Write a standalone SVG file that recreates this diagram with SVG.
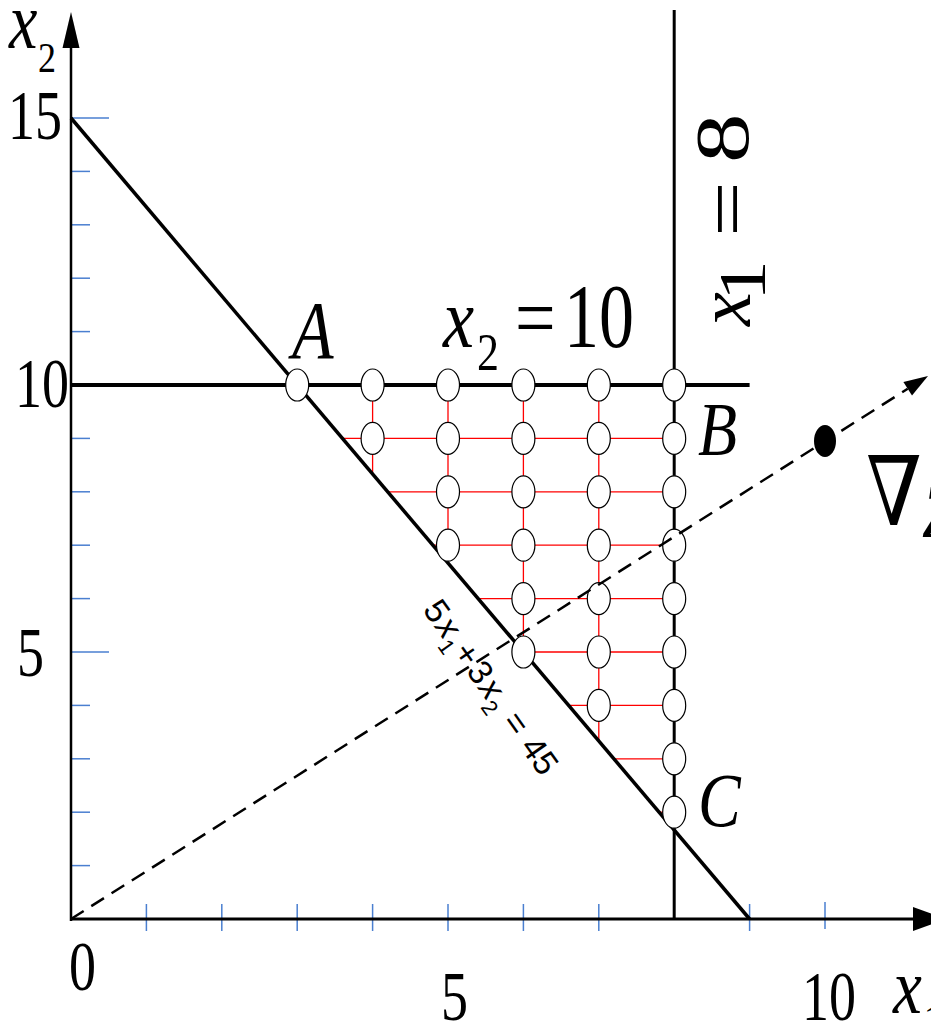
<svg xmlns="http://www.w3.org/2000/svg" width="931" height="1031" viewBox="0 0 931 1031">
<style>
.t{font-family:"Liberation Serif","Times New Roman",serif;fill:#000}
.i{font-style:italic}
.tick{stroke:#4a7fd0;stroke-width:1.5}
.red{stroke:#ff0000;stroke-width:1.3}
.blk{stroke:#000;fill:none}
.pt{fill:#fff;stroke:#000;stroke-width:1.2}
</style>
<rect width="931" height="1031" fill="#fff"/>
<g id="ticks">
<line class="tick" x1="71" y1="865.6" x2="90" y2="865.6"/>
<line class="tick" x1="71" y1="812.2" x2="90" y2="812.2"/>
<line class="tick" x1="71" y1="758.8" x2="90" y2="758.8"/>
<line class="tick" x1="71" y1="705.4" x2="90" y2="705.4"/>
<line class="tick" x1="71" y1="652" x2="109" y2="652"/>
<line class="tick" x1="71" y1="598.6" x2="90" y2="598.6"/>
<line class="tick" x1="71" y1="545.2" x2="90" y2="545.2"/>
<line class="tick" x1="71" y1="491.8" x2="90" y2="491.8"/>
<line class="tick" x1="71" y1="438.4" x2="90" y2="438.4"/>
<line class="tick" x1="71" y1="331.6" x2="90" y2="331.6"/>
<line class="tick" x1="71" y1="278.2" x2="90" y2="278.2"/>
<line class="tick" x1="71" y1="224.8" x2="90" y2="224.8"/>
<line class="tick" x1="71" y1="171.4" x2="90" y2="171.4"/>
<line class="tick" x1="71" y1="118" x2="109" y2="118"/>
<line class="tick" x1="146.4" y1="904" x2="146.4" y2="931"/>
<line class="tick" x1="221.8" y1="904" x2="221.8" y2="931"/>
<line class="tick" x1="297.2" y1="904" x2="297.2" y2="931"/>
<line class="tick" x1="372.6" y1="904" x2="372.6" y2="931"/>
<line class="tick" x1="448" y1="904" x2="448" y2="931"/>
<line class="tick" x1="523.4" y1="904" x2="523.4" y2="931"/>
<line class="tick" x1="598.8" y1="904" x2="598.8" y2="931"/>
<line class="tick" x1="749.6" y1="904" x2="749.6" y2="931"/>
<line class="tick" x1="825" y1="902" x2="825" y2="929"/>
</g>
<g id="grid">
<line class="red" x1="342.8" y1="438.4" x2="674.2" y2="438.4"/>
<line class="red" x1="388" y1="491.8" x2="674.2" y2="491.8"/>
<line class="red" x1="433" y1="545.2" x2="674.2" y2="545.2"/>
<line class="red" x1="478.4" y1="598.6" x2="674.2" y2="598.6"/>
<line class="red" x1="523.7" y1="652" x2="674.2" y2="652"/>
<line class="red" x1="568.9" y1="705.4" x2="674.2" y2="705.4"/>
<line class="red" x1="614.2" y1="758.8" x2="674.2" y2="758.8"/>
<line class="red" x1="659.4" y1="812.2" x2="674.2" y2="812.2"/>
<line class="red" x1="372.6" y1="385" x2="372.6" y2="473.8"/>
<line class="red" x1="448" y1="385" x2="448" y2="562.7"/>
<line class="red" x1="523.4" y1="385" x2="523.4" y2="651.7"/>
<line class="red" x1="598.8" y1="385" x2="598.8" y2="740.6"/>
</g>
<g id="axes">
<line class="blk" x1="71" y1="919" x2="914" y2="919" stroke-width="3"/>
<polygon points="913,907 946,919 913,931" fill="#000"/>
<line class="blk" x1="71" y1="921" x2="71" y2="46" stroke-width="2.5"/>
<polygon points="62.5,48 71,12 79.5,48" fill="#000"/>
</g>
<g id="constraints">
<line class="blk" x1="71" y1="385" x2="749.6" y2="385" stroke-width="4"/>
<line class="blk" x1="674.2" y1="10" x2="674.2" y2="919" stroke-width="3"/>
<line class="blk" x1="71" y1="118" x2="749.6" y2="919" stroke-width="3.5"/>
</g>
<g id="points">
<ellipse class="pt" cx="297.2" cy="385" rx="11.5" ry="16"/>
<ellipse class="pt" cx="372.6" cy="385" rx="11.5" ry="16"/>
<ellipse class="pt" cx="448" cy="385" rx="11.5" ry="16"/>
<ellipse class="pt" cx="523.4" cy="385" rx="11.5" ry="16"/>
<ellipse class="pt" cx="598.8" cy="385" rx="11.5" ry="16"/>
<ellipse class="pt" cx="674.2" cy="385" rx="11.5" ry="16"/>
<ellipse class="pt" cx="372.6" cy="438.4" rx="11.5" ry="16"/>
<ellipse class="pt" cx="448" cy="438.4" rx="11.5" ry="16"/>
<ellipse class="pt" cx="523.4" cy="438.4" rx="11.5" ry="16"/>
<ellipse class="pt" cx="598.8" cy="438.4" rx="11.5" ry="16"/>
<ellipse class="pt" cx="674.2" cy="438.4" rx="11.5" ry="16"/>
<ellipse class="pt" cx="448" cy="491.8" rx="11.5" ry="16"/>
<ellipse class="pt" cx="523.4" cy="491.8" rx="11.5" ry="16"/>
<ellipse class="pt" cx="598.8" cy="491.8" rx="11.5" ry="16"/>
<ellipse class="pt" cx="674.2" cy="491.8" rx="11.5" ry="16"/>
<ellipse class="pt" cx="448" cy="545.2" rx="11.5" ry="16"/>
<ellipse class="pt" cx="523.4" cy="545.2" rx="11.5" ry="16"/>
<ellipse class="pt" cx="598.8" cy="545.2" rx="11.5" ry="16"/>
<ellipse class="pt" cx="674.2" cy="545.2" rx="11.5" ry="16"/>
<ellipse class="pt" cx="523.4" cy="598.6" rx="11.5" ry="16"/>
<ellipse class="pt" cx="598.8" cy="598.6" rx="11.5" ry="16"/>
<ellipse class="pt" cx="674.2" cy="598.6" rx="11.5" ry="16"/>
<ellipse class="pt" cx="523.4" cy="652" rx="11.5" ry="16"/>
<ellipse class="pt" cx="598.8" cy="652" rx="11.5" ry="16"/>
<ellipse class="pt" cx="674.2" cy="652" rx="11.5" ry="16"/>
<ellipse class="pt" cx="598.8" cy="705.4" rx="11.5" ry="16"/>
<ellipse class="pt" cx="674.2" cy="705.4" rx="11.5" ry="16"/>
<ellipse class="pt" cx="674.2" cy="758.8" rx="11.5" ry="16"/>
<ellipse class="pt" cx="674.2" cy="812.2" rx="11.5" ry="16"/>
</g>
<g id="gradient">
<line x1="71" y1="919" x2="907.7" y2="388.8" stroke="#000" stroke-width="2.5" stroke-dasharray="15,9"/>
<polygon points="928,376 912,395.6 903.4,382" fill="#000"/>
<ellipse cx="825" cy="441" rx="11" ry="16" fill="#000"/>
</g>
<g id="labels">
<text class="t i" font-size="64" transform="translate(9,48) scale(1,1.25)">x</text>
<text class="t" font-size="36" transform="translate(38,72) scale(1,1.2)">2</text>
<text class="t" font-size="54" transform="translate(8,139) scale(1,1.3)">15</text>
<text class="t" font-size="54" transform="translate(15,407) scale(1,1.3)">10</text>
<text class="t" font-size="54" transform="translate(17,676) scale(1,1.3)">5</text>
<text class="t" font-size="54" transform="translate(69,990) scale(1,1.3)">0</text>
<text class="t" font-size="54" transform="translate(441,1020) scale(1,1.3)">5</text>
<text class="t" font-size="54" transform="translate(802,1020) scale(1,1.3)">10</text>
<text class="t i" font-size="65" transform="translate(893,1013) scale(1,1.2)">x</text>
<text class="t" font-size="36" transform="translate(924,1034) scale(1,1.2)">1</text>
<text class="t i" font-size="68" transform="translate(292,358) scale(1,1.2)">A</text>
<text class="t i" font-size="64" transform="translate(698,455) scale(1,1.2)">B</text>
<text class="t i" font-size="64" transform="translate(698,826) scale(1,1.2)">C</text>
<text class="t i" font-size="70" transform="translate(443,347) scale(1,1.2)">x</text>
<text class="t" font-size="44" transform="translate(477,370) scale(1,1.2)">2</text>
<text class="t" font-size="72" transform="translate(515,347) scale(1,1.2)">=</text>
<text class="t" font-size="70" transform="translate(564,347) scale(1,1.3)">10</text>
<text class="t" font-size="76" transform="translate(748,163) scale(1,1.3) rotate(-90)">8</text>
<text class="t" font-size="76" transform="translate(753,237) scale(1,1.3) rotate(-90)">=</text>
<text class="t i" font-size="76" transform="translate(750,326) rotate(-90)">x</text>
<text class="t" font-size="68" transform="translate(765,301) scale(1,1.2) rotate(-90)">1</text>
<text font-family="Liberation Sans, Arial, sans-serif" font-size="34" transform="translate(422,610) rotate(54.6)"><tspan x="0">5</tspan><tspan x="21" font-style="italic">x</tspan><tspan x="38" dy="9" font-size="22">1</tspan><tspan x="52" dy="-9">+</tspan><tspan x="75">3</tspan><tspan x="96" font-style="italic">x</tspan><tspan x="113" dy="9" font-size="22">2</tspan><tspan x="137" dy="-9">=</tspan><tspan x="168">45</tspan></text>
<text class="t" font-size="80" transform="translate(866,525) scale(1,1.2)" style="font-family:'Liberation Serif','DejaVu Serif',serif">∇</text>
<text class="t i" font-size="64" transform="translate(922,537) scale(1,1.2)">Z</text>
</g>
</svg>
